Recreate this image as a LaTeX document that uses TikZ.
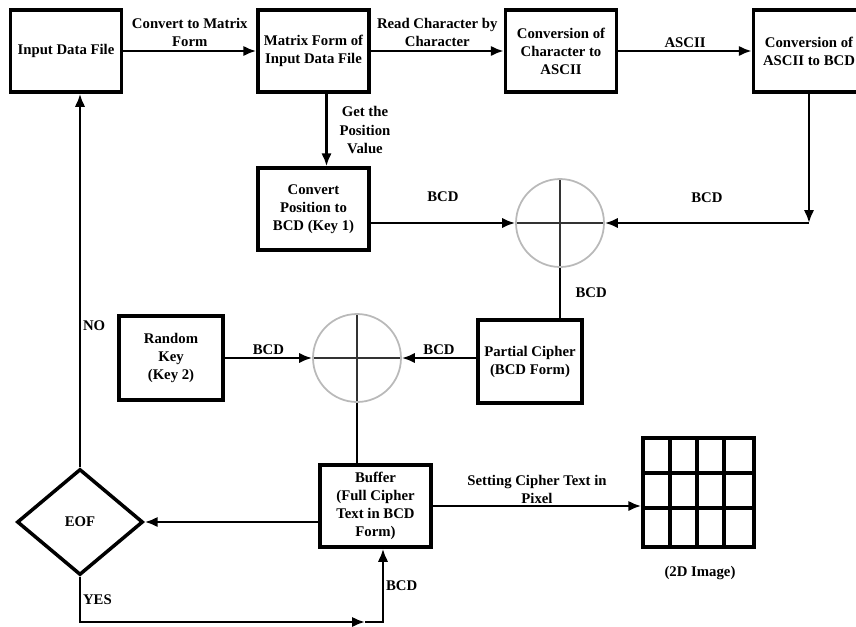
\documentclass[tikz,border=0pt]{standalone}
\usepackage{fontspec}
\setmainfont{Liberation Serif}
\usetikzlibrary{arrows.meta, positioning, calc, shapes.geometric}

\begin{document}
\begin{tikzpicture}[x=0.02cm, y=-0.02cm, line width=1.5pt,
    font=\fontsize{8.4}{10.3}\selectfont\bfseries,
    box/.style={draw, line width=2pt, minimum width=2.22cm, minimum height=1.64cm, align=center, inner sep=1pt},
    xorc/.style={circle, draw=gray!55, line width=1pt, minimum size=1.76cm,
        path picture={\draw[black!80, line width=1pt]
            (path picture bounding box.north) -- (path picture bounding box.south)
            (path picture bounding box.west) -- (path picture bounding box.east);}},
    arr/.style={-{Latex[length=2.6mm, width=2.1mm]}},
    lbl/.style={align=center, inner sep=1pt}]
    \useasboundingbox (0,0) rectangle (856,626);

    \node[box] (infile) at (66,51) {Input Data File};
    \node[box] (mform) at (313.5,51) {Matrix Form of\\Input Data File};
    \node[box] (chascii) at (561,51) {Conversion of\\Character to\\ASCII};
    \node[box] (asciibcd) at (809,51) {Conversion of\\ASCII to BCD};
    \node[box] (posbcd) at (313.5,209) {Convert\\Position to\\BCD (Key 1)};
    \node[xorc] (xorA) at (560,223) {};
    \node[box, minimum width=2.08cm, minimum height=1.66cm] (partial) at (530,361.5) {Partial Cipher\\(BCD Form)};
    \node[box, minimum width=2.08cm, minimum height=1.68cm] (rkey) at (171,358) {Random\\Key\\(Key 2)};
    \node[xorc] (xorB) at (357,358) {};
    \node[box] (buffer) at (375.5,506) {Buffer\\(Full Cipher\\Text in BCD\\Form)};
    \node[diamond, draw, line width=2pt, minimum width=2.52cm, minimum height=2.12cm] (eof) at (80,522) {EOF};
    \node[draw, line width=2pt, minimum width=2.22cm, minimum height=2.18cm] (img) at (698.5,492.5) {};
    \foreach \gx in {670,697,724} \draw[line width=2pt] (\gx,438) -- (\gx,547);
    \foreach \gy in {473,508} \draw[line width=2pt] (643,\gy) -- (754,\gy);
    \node (imglbl) at (700,573) {(2D Image)};

    \draw[arr] (infile) -- node[lbl, above=0.5pt] {Convert to Matrix\\Form} (mform);
    \draw[arr] (mform) -- node[lbl, above=0.5pt] {Read Character by\\Character} (chascii);
    \draw[arr] (chascii) -- node[lbl, above] {ASCII} (asciibcd);
    \draw[arr] ($(mform.south)+(13,0)$) -- node[lbl, right=2mm] {Get the\\Position\\Value} ($(posbcd.north)+(13,0)$);

    \coordinate (bcdturn) at (asciibcd.south |- xorA);
    \draw[arr] (posbcd.east |- xorA) -- node[lbl, above=3.6mm] {BCD} (xorA);
    \draw[arr] (asciibcd) -- (bcdturn);
    \draw[arr] (bcdturn) -- node[lbl, above=3.5mm] {BCD} (xorA);
    \draw (xorA) -- node[lbl, right=2.5mm] {BCD} (xorA |- partial.north);

    \draw[arr] (rkey) -- node[lbl, above] {BCD} (xorB);
    \draw[arr] (partial.west |- xorB) -- node[lbl, above] {BCD} (xorB);
    \draw (xorB) -- (xorB |- buffer.north);

    \draw[arr] (buffer.west |- eof) -- (eof);
    \draw[arr] (buffer) -- node[lbl, above=-0.5pt] {Setting Cipher Text in\\Pixel} (buffer -| img.west);
    \draw[arr] (eof) -- node[lbl, pos=0.38, right] {NO} (eof |- infile.south);

    \coordinate (ybot) at (383,622);
    \draw[arr] (eof) -- node[lbl, right] {YES} (eof |- ybot) -- ($(ybot)+(-18,0)$);
    \draw[arr] ($(ybot)+(-18,0)$) -- (ybot) -- node[lbl, right] {BCD} (buffer.south -| ybot);
\end{tikzpicture}
\end{document}
